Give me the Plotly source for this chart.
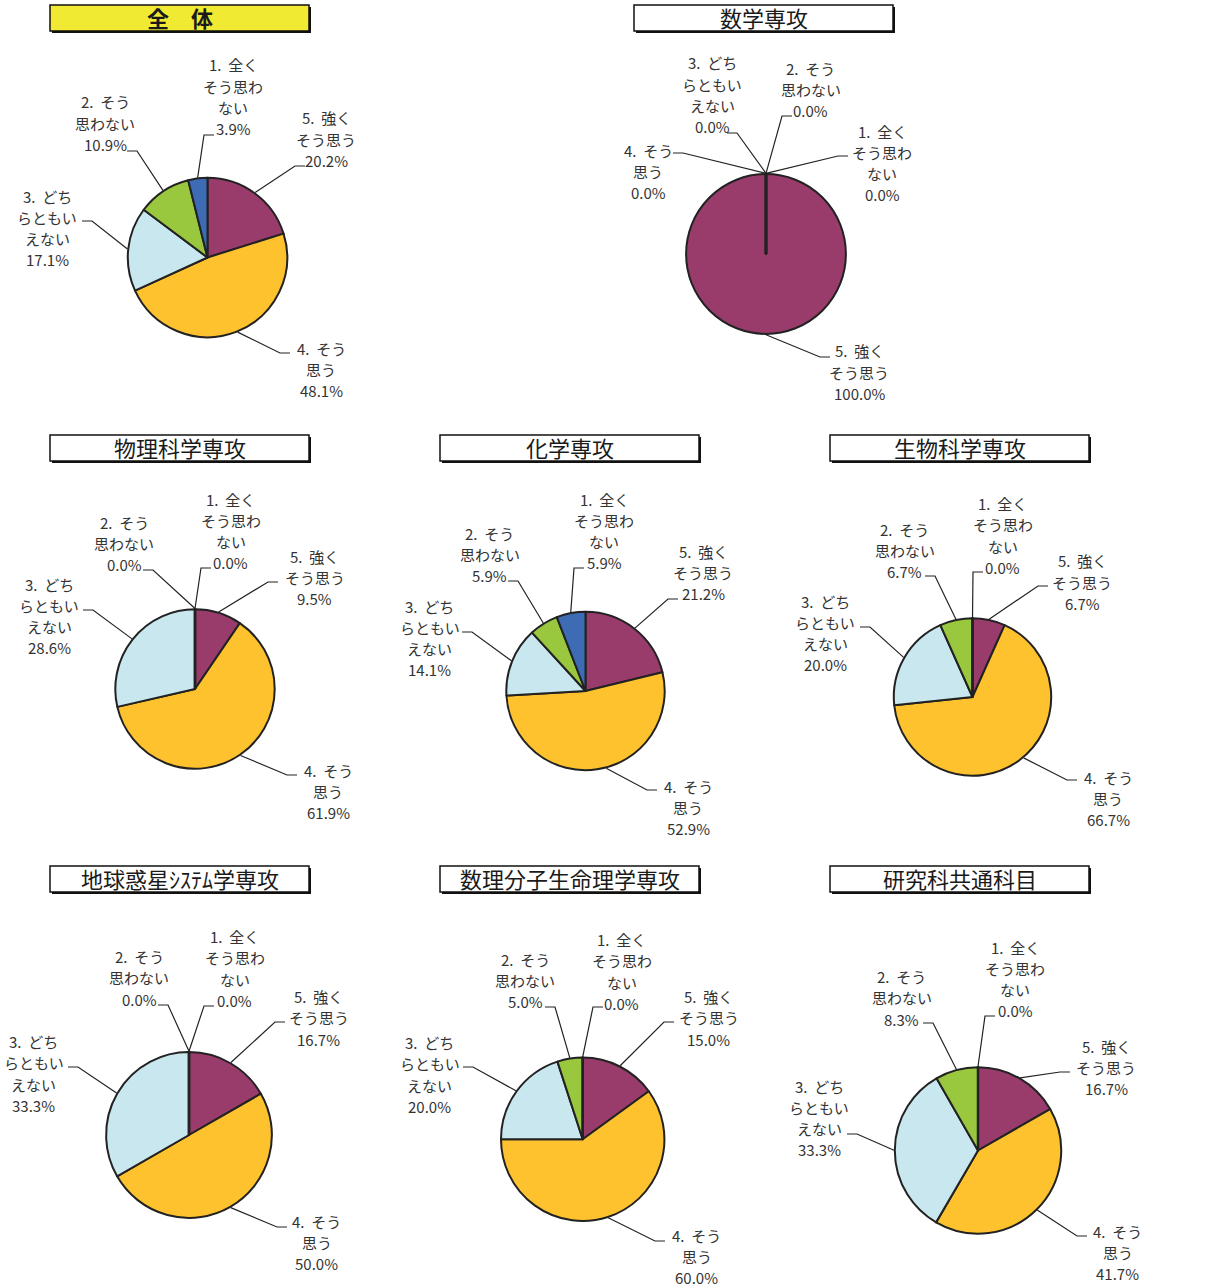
import math
import plotly.graph_objects as go

W, H = 1225, 1288

# ---------------- data ----------------
categories = ["1. 全くそう思わない", "2. そう思わない", "3. どちらともいえない",
              "4. そう思う", "5. 強くそう思う"]
label_lines = [
    ["1.\u00a0\u00a0全く", "そう思わ", "ない"],
    ["2.\u00a0\u00a0そう", "思わない"],
    ["3.\u00a0\u00a0どち", "らともい", "えない"],
    ["4.\u00a0\u00a0そう", "思う"],
    ["5.\u00a0\u00a0強く", "そう思う"],
]
panel_titles = ["全　体", "数学専攻", "物理科学専攻", "化学専攻", "生物科学専攻",
                "地球惑星ｼｽﾃﾑ学専攻", "数理分子生命理学専攻", "研究科共通科目"]

# percentages for categories 1..5
v_all = [3.9, 10.9, 17.1, 48.1, 20.2]
v_math = [0.0, 0.0, 0.0, 0.0, 100.0]
v_phys = [0.0, 0.0, 28.6, 61.9, 9.5]
v_chem = [5.9, 5.9, 14.1, 52.9, 21.2]
v_bio = [0.0, 6.7, 20.0, 66.7, 6.7]
v_earth = [0.0, 0.0, 33.3, 50.0, 16.7]
v_mol = [0.0, 5.0, 20.0, 60.0, 15.0]
v_common = [0.0, 8.3, 33.3, 41.7, 16.7]
panel_values = [v_all, v_math, v_phys, v_chem, v_bio, v_earth, v_mol, v_common]

# ---------------- styles ----------------
slice_colors = ["#3D6BB4", "#99C73D", "#C8E7EE", "#FEC22E", "#993C6B"]  # cats 1..5
edge = "#222222"
text_color = "#333333"
font_family = "Noto Sans CJK JP"
title_fill = ["#F0EA33"] + ["#FFFFFF"] * 7
label_size = 15
line_gap = 21.3

# ---------------- layout (pixel positions) ----------------
# pie center x, y, radius; title box x0, y0, x1, y1
pie_geom = [
    (207.5, 257.5, 80.5, (50, 5, 309, 31)),
    (766.0, 254.0, 80.7, (634, 5, 893, 31)),
    (195.0, 689.0, 80.5, (50, 435, 309, 461)),
    (585.5, 691.0, 80.0, (440, 435, 699, 461)),
    (972.5, 697.0, 79.5, (830, 435, 1089, 461)),
    (189.0, 1135.0, 83.7, (50, 866, 309, 892)),
    (582.7, 1139.3, 82.5, (440, 866, 699, 892)),
    (978.0, 1150.5, 84.0, (830, 866, 1089, 892)),
]
# per label (cat 1..5): text center x, first line y, elbow x, elbow y, touch angle override
label_pos = [
    [(233, 65, 204, 135, None), (105, 102, 137, 151, None), (47, 196, 92, 221, None),
     (321, 348, 280, 353, 158), (326, 118, 295, 166, None)],
    [(882, 131, 838, 156, None), (811, 68, 782, 116, None), (712, 63, 737, 133, None),
     (648, 150, 683, 153, None), (859, 351, 820, 357, None)],
    [(230.5, 499, 201, 568, None), (124, 522, 153, 570, None), (49, 584, 93, 610, None),
     (328, 770, 287, 775, None), (314.5, 556, 268, 582, None)],
    [(604, 499, 574, 568, None), (489.5, 533, 518, 581, None), (429.5, 606, 472, 632, None),
     (688, 786, 647, 790, 165), (703, 551, 668, 599, None)],
    [(1002.5, 503.5, 973, 572, None), (904.5, 529, 935, 576, None), (825, 601, 870, 627, None),
     (1108, 777, 1067, 780, 140), (1082, 561, 1038, 586, None)],
    [(234.5, 936.5, 204, 1006, None), (139, 956.5, 168, 1005, None), (33.5, 1041.5, 78, 1067, None),
     (316.5, 1221, 277, 1227, None), (318.5, 996.5, 275, 1022, None)],
    [(621.5, 939.5, 593, 1007, None), (525, 959, 555, 1007, None), (429.5, 1042.5, 473, 1067, None),
     (696.5, 1235, 655, 1241, None), (708.5, 996.5, 664, 1022, None)],
    [(1015, 947, 985, 1016, None), (902, 976.5, 933, 1023, None), (819, 1086, 857, 1134, None),
     (1117.5, 1231, 1077, 1236, None), (1106, 1046, 1060, 1072, None)],
]


def px(x):
    return x / W


def py(y):
    return 1 - y / H


fig = go.Figure()
shapes = []
annotations = []

order = [4, 3, 2, 1, 0]  # clockwise from 12 o'clock: 5,4,3,2,1

for p, (title, vals) in enumerate(zip(panel_titles, panel_values)):
    cx, cy, r, box = pie_geom[p]
    rp = r - 0.8
    fig.add_trace(go.Pie(
        labels=[categories[k] for k in order],
        values=[vals[k] for k in order],
        marker=dict(colors=[slice_colors[k] for k in order],
                    line=dict(color=edge, width=2)),
        sort=False, direction="clockwise", rotation=0,
        textinfo="none", hoverinfo="label+percent", showlegend=False,
        domain=dict(x=[px(cx - rp), px(cx + rp)], y=[py(cy + rp), py(cy - rp)]),
    ))

    total = sum(vals)
    cum = 0.0
    mids = {}
    for k in order:
        start = cum / total * 360
        span = vals[k] / total * 360
        mids[k] = start + span / 2
        if vals[k] == 0:
            # boundary line of an empty slice
            a = math.radians(start)
            shapes.append(dict(type="line", xref="paper", yref="paper",
                               x0=px(cx), y0=py(cy),
                               x1=px(cx + r * math.sin(a)), y1=py(cy - r * math.cos(a)),
                               line=dict(color=edge, width=2.5)))
        cum += vals[k]

    # labels + leader lines
    for k in range(5):
        tx, ty, ex, ey, ang = label_pos[p][k]
        theta = math.radians(ang if ang is not None else mids[k])
        tpx = cx + r * math.sin(theta)
        tpy = cy - r * math.cos(theta)
        sx = ex + (10 if tx > ex else -10)
        shapes.append(dict(
            type="path", xref="paper", yref="paper",
            path=f"M {px(tpx)},{py(tpy)} L {px(ex)},{py(ey)} L {px(sx)},{py(ey)}",
            line=dict(color=edge, width=1.2)))
        lines = label_lines[k] + [f"{vals[k]:.1f}%"]
        for i, t in enumerate(lines):
            annotations.append(dict(
                x=px(tx), y=py(ty + i * line_gap), xref="paper", yref="paper",
                text=t, showarrow=False, xanchor="center", yanchor="middle",
                borderpad=0,
                font=dict(family=font_family, size=label_size, color=text_color)))

    # title box with drop shadow
    x0, y0, x1, y1 = box
    shapes.append(dict(type="rect", xref="paper", yref="paper",
                       x0=px(x0 + 2), x1=px(x1 + 2), y0=py(y1 + 2), y1=py(y0 + 2),
                       fillcolor="#111111", line=dict(width=0), layer="below"))
    shapes.append(dict(type="rect", xref="paper", yref="paper",
                       x0=px(x0), x1=px(x1), y0=py(y1), y1=py(y0),
                       fillcolor=title_fill[p], line=dict(color="#111111", width=1.5),
                       layer="below"))
    ttext = f"<b>{title}</b>" if p == 0 else title
    annotations.append(dict(
        x=px((x0 + x1) / 2), y=py((y0 + y1) / 2 - 1.5), xref="paper", yref="paper",
        text=ttext, showarrow=False, xanchor="center", yanchor="middle", borderpad=0,
        font=dict(family=font_family, size=22, color="#1a1a1a")))

fig.update_layout(
    width=W, height=H,
    margin=dict(l=0, r=0, t=0, b=0),
    paper_bgcolor="white", plot_bgcolor="white",
    shapes=shapes, annotations=annotations,
)

fig.write_html("out.html", config={"displayModeBar": False},
               post_script="document.body.style.margin='0';document.body.style.overflow='hidden';")
